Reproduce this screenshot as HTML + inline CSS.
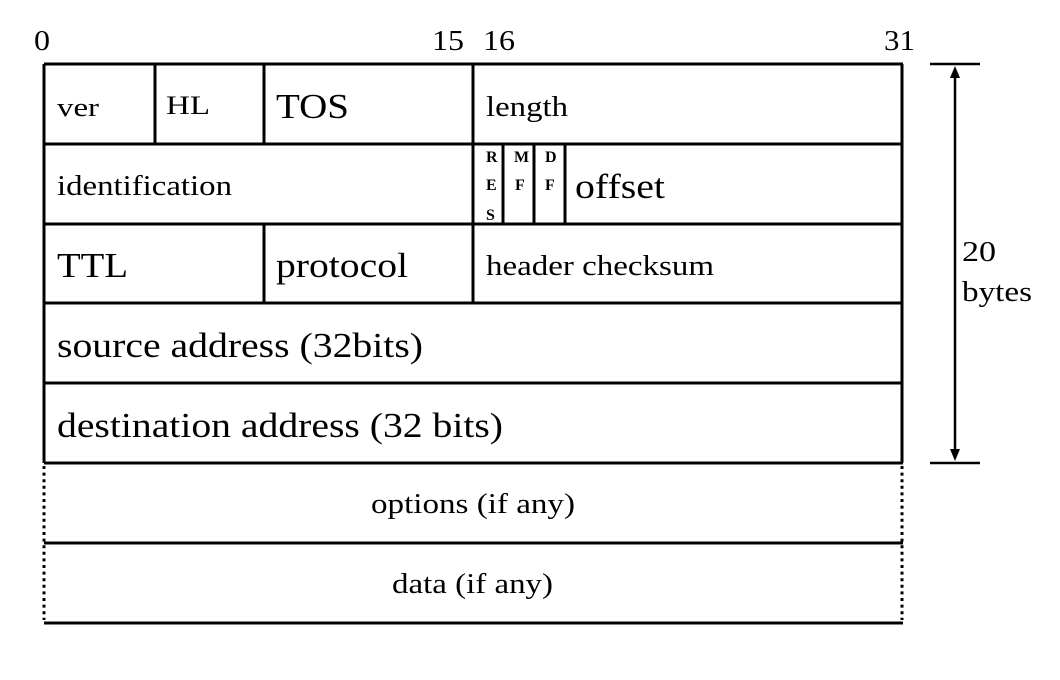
<!DOCTYPE html>
<html><head><style>
html,body{margin:0;padding:0;background:#fff;}
svg{display:block;}
text{font-family:"Liberation Serif",serif;fill:#000;}
</style></head><body>
<svg width="1060" height="680" viewBox="0 0 1060 680">
<g stroke="#000" stroke-width="3" fill="none">
<line x1="44" y1="64" x2="903" y2="64"/>
<line x1="44" y1="144" x2="903" y2="144"/>
<line x1="44" y1="224" x2="903" y2="224"/>
<line x1="44" y1="303" x2="903" y2="303"/>
<line x1="44" y1="383" x2="903" y2="383"/>
<line x1="44" y1="463" x2="903" y2="463"/>
<line x1="44" y1="543" x2="903" y2="543"/>
<line x1="44" y1="623" x2="903" y2="623"/>
<line x1="44" y1="64" x2="44" y2="463"/>
<line x1="902" y1="64" x2="902" y2="463"/>
<line x1="155" y1="64" x2="155" y2="144"/>
<line x1="264" y1="64" x2="264" y2="144"/>
<line x1="473" y1="64" x2="473" y2="303"/>
<line x1="503" y1="144" x2="503" y2="224"/>
<line x1="534" y1="144" x2="534" y2="224"/>
<line x1="565" y1="144" x2="565" y2="224"/>
<line x1="264" y1="224" x2="264" y2="303"/>
<line x1="930" y1="64" x2="980" y2="64" stroke-width="2.5"/>
<line x1="930" y1="463" x2="980" y2="463" stroke-width="2.5"/>
<line x1="955" y1="72" x2="955" y2="455" stroke-width="2.5"/>
</g>
<g stroke="#000" stroke-width="3" stroke-dasharray="3 3.6">
<line x1="44" y1="466" x2="44" y2="620"/>
<line x1="902" y1="466" x2="902" y2="620"/>
</g>
<polygon points="955,66 950,78 960,78" fill="#000"/>
<polygon points="955,461 950,449 960,449" fill="#000"/>
<g lengthAdjust="spacingAndGlyphs">
<text x="34" y="50" font-size="28" textLength="16" lengthAdjust="spacingAndGlyphs">0</text>
<text x="432" y="50" font-size="28" textLength="32" lengthAdjust="spacingAndGlyphs">15</text>
<text x="483" y="50" font-size="28" textLength="32" lengthAdjust="spacingAndGlyphs">16</text>
<text x="884" y="50" font-size="28" textLength="31" lengthAdjust="spacingAndGlyphs">31</text>
<text x="57" y="116" font-size="26" textLength="42" lengthAdjust="spacingAndGlyphs">ver</text>
<text x="166" y="114" font-size="26" textLength="44" lengthAdjust="spacingAndGlyphs">HL</text>
<text x="276" y="118" font-size="35" textLength="73" lengthAdjust="spacingAndGlyphs">TOS</text>
<text x="486" y="116" font-size="28" textLength="82" lengthAdjust="spacingAndGlyphs">length</text>
<text x="57" y="195" font-size="28" textLength="175" lengthAdjust="spacingAndGlyphs">identification</text>
<text x="575" y="198" font-size="35" textLength="90" lengthAdjust="spacingAndGlyphs">offset</text>
<text x="57" y="277" font-size="35" textLength="71" lengthAdjust="spacingAndGlyphs">TTL</text>
<text x="276" y="277" font-size="35" textLength="132" lengthAdjust="spacingAndGlyphs">protocol</text>
<text x="486" y="275" font-size="28" textLength="228" lengthAdjust="spacingAndGlyphs">header checksum</text>
<text x="57" y="357" font-size="35" textLength="366" lengthAdjust="spacingAndGlyphs">source address (32bits)</text>
<text x="57" y="437" font-size="35" textLength="446" lengthAdjust="spacingAndGlyphs">destination address (32 bits)</text>
<text x="371" y="513" font-size="28" textLength="204" lengthAdjust="spacingAndGlyphs">options (if any)</text>
<text x="392" y="593" font-size="28" textLength="161" lengthAdjust="spacingAndGlyphs">data (if any)</text>
<text x="962" y="261" font-size="28" textLength="34" lengthAdjust="spacingAndGlyphs">20</text>
<text x="962" y="301" font-size="28" textLength="70" lengthAdjust="spacingAndGlyphs">bytes</text>
</g>
<g font-size="16" font-weight="bold">
<text x="486" y="162">R</text><text x="486" y="190">E</text><text x="486" y="220">S</text>
<text x="514" y="162">M</text><text x="515" y="190">F</text>
<text x="545" y="162">D</text><text x="545" y="190">F</text>
</g>
</svg>
</body></html>
